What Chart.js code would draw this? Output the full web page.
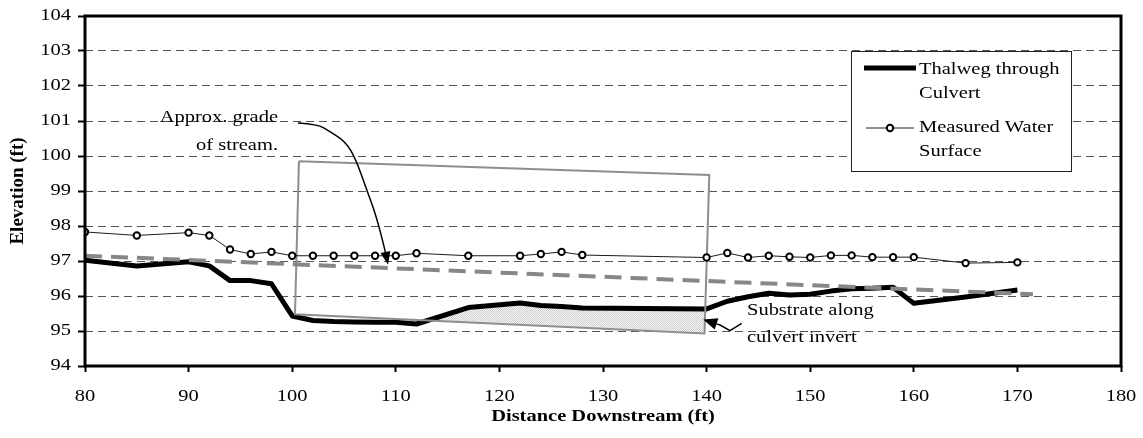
<!DOCTYPE html>
<html>
<head>
<meta charset="utf-8">
<title>Thalweg and water surface profile</title>
<script src="https://cdn.jsdelivr.net/npm/chart.js@4.4.1/dist/chart.umd.min.js"></script>
<style>
  html, body { margin: 0; padding: 0; background: #fff; }
  #wrap { width: 1143px; height: 438px; position: relative; }
</style>
</head>
<body>
<div id="wrap"><canvas id="profileChart"></canvas></div>
<script>
// ── Data ───────────────────────────────
const distance     = [80, 85, 90, 92, 94, 96, 98, 100, 102, 104, 106, 108, 110, 112, 117, 122, 124, 126, 128,
                      140, 142, 144, 146, 148, 150, 152, 154, 156, 158, 160, 165, 170];
const waterSurface = [97.83, 97.73, 97.81, 97.73, 97.33, 97.20, 97.26, 97.15, 97.15, 97.15, 97.15, 97.15, 97.15, 97.22,
                      97.15, 97.15, 97.20, 97.26, 97.17, 97.10, 97.23, 97.10, 97.15, 97.12, 97.10, 97.16, 97.16,
                      97.11, 97.11, 97.11, 96.94, 96.96];
const thalweg      = [97.02, 96.86, 96.98, 96.86, 96.44, 96.44, 96.35, 95.43, 95.30, 95.27, 95.26, 95.25, 95.25, 95.20,
                      95.67, 95.80, 95.73, 95.70, 95.66, 95.63, 95.85, 95.98, 96.08, 96.03, 96.05, 96.14, 96.21,
                      96.22, 96.25, 95.79, 95.97, 96.17];
const gradeX   = [80, 171.5];
const gradeY   = [97.15, 96.05];
const culvertX = [100.65, 140.26, 139.80, 100.27, 100.65];
const culvertY = [99.85, 99.46, 94.93, 95.48, 99.85];

const xTicks = [80, 90, 100, 110, 120, 130, 140, 150, 160, 170, 180];
const yTicks = [94, 95, 96, 97, 98, 99, 100, 101, 102, 103, 104];

// annotations (data units)
const gradeNote    = ['Approx. grade', 'of stream.'];
const gradeNoteX   = 98.63;
const gradeNoteY   = [101.09, 100.29];
const gradeArrowX  = [100.56, 102.49, 103.59, 105.19, 106.16, 107.12, 108.09, 108.96, 109.25];
const gradeArrowY  = [100.94, 100.90, 100.71, 100.40, 99.89, 99.09, 98.31, 97.31, 96.89];
const invertNote   = ['Substrate along', 'culvert invert'];
const invertNoteX  = 143.9;
const invertNoteY  = [95.57, 94.80];
const invertArrowX = [143.39, 142.26, 141.29, 139.68];
const invertArrowY = [95.22, 95.01, 95.17, 95.33];

// ── Helpers ────────────────────────────
const SERIF = '"Liberation Serif", "Times New Roman", serif';
const STRETCH = 1.28; // the reference text is drawn wide

const pts = (xs, ys) => xs.map((x, i) => ({ x, y: ys[i] }));

function wideText(ctx, txt, x, y, align, font) {
  ctx.save();
  ctx.font = font;
  ctx.fillStyle = '#000';
  ctx.textAlign = align;
  ctx.textBaseline = 'middle';
  ctx.translate(x, y);
  ctx.scale(STRETCH, 1);
  ctx.fillText(txt, 0, 0);
  ctx.restore();
}

function arrow(ctx, p, smooth, headLen, headW) {
  const n = p.length;
  const a = p[n - 2], b = p[n - 1];
  const ang = Math.atan2(b.y - a.y, b.x - a.x);
  const base = { x: b.x - headLen * Math.cos(ang), y: b.y - headLen * Math.sin(ang) };
  ctx.save();
  ctx.strokeStyle = '#000';
  ctx.fillStyle = '#000';
  ctx.lineWidth = 1.5;
  ctx.beginPath();
  ctx.moveTo(p[0].x, p[0].y);
  if (smooth) {
    for (let i = 1; i < n - 1; i++) {
      ctx.quadraticCurveTo(p[i].x, p[i].y, (p[i].x + p[i + 1].x) / 2, (p[i].y + p[i + 1].y) / 2);
    }
  } else {
    for (let i = 1; i < n - 1; i++) ctx.lineTo(p[i].x, p[i].y);
  }
  ctx.lineTo(base.x, base.y);
  ctx.stroke();
  ctx.beginPath();
  ctx.moveTo(b.x, b.y);
  ctx.lineTo(base.x + headW * Math.sin(ang), base.y - headW * Math.cos(ang));
  ctx.lineTo(base.x - headW * Math.sin(ang), base.y + headW * Math.cos(ang));
  ctx.closePath();
  ctx.fill();
  ctx.restore();
}

// shaded wedge: thalweg sitting above the culvert invert line
const invA = { x: culvertX[3], y: culvertY[3] };
const invB = { x: culvertX[2], y: culvertY[2] };
const invertAt = x => invA.y + (invB.y - invA.y) * (x - invA.x) / (invB.x - invA.x);
const wedge = [];
for (let i = 1; i < distance.length; i++) {
  const x0 = distance[i - 1], x1 = distance[i];
  if (x1 > invB.x + 0.5) break;
  const d0 = thalweg[i - 1] - invertAt(x0), d1 = thalweg[i] - invertAt(x1);
  if (d0 <= 0 && d1 > 0) {
    const xc = x0 + (x1 - x0) * d0 / (d0 - d1);
    wedge.push({ x: xc, y: invertAt(xc) });
  }
  if (d1 > 0 && wedge.length) wedge.push({ x: x1, y: thalweg[i] });
}
wedge.push({ x: invB.x, y: invB.y });
wedge.push(wedge[0]);

const canvas = document.getElementById('profileChart');
const ctx = canvas.getContext('2d');

const dots = document.createElement('canvas');
dots.width = dots.height = 2;
const dg = dots.getContext('2d');
dg.fillStyle = '#f7f7f7'; dg.fillRect(0, 0, 2, 2);
dg.fillStyle = '#cdcdcd'; dg.fillRect(0, 0, 1, 1); dg.fillRect(1, 1, 1, 1);
const stipple = ctx.createPattern(dots, 'repeat');

// ── Plugins ────────────────────────────
const decorations = {
  id: 'decorations',
  afterDraw(chart) {
    const { ctx, chartArea: area, scales: { x, y } } = chart;
    const px = (xs, ys) => xs.map((v, i) => ({ x: x.getPixelForValue(v), y: y.getPixelForValue(ys[i]) }));

    // notes and arrows
    gradeNote.forEach((t, i) => wideText(ctx, t, x.getPixelForValue(gradeNoteX), y.getPixelForValue(gradeNoteY[i]), 'right', '16px ' + SERIF));
    invertNote.forEach((t, i) => wideText(ctx, t, x.getPixelForValue(invertNoteX), y.getPixelForValue(invertNoteY[i]), 'left', '16px ' + SERIF));
    arrow(ctx, px(gradeArrowX, gradeArrowY), true, 13, 5);
    arrow(ctx, px(invertArrowX, invertArrowY), false, 14, 6);

    // legend
    const lx = 851.5, ly = 51.5;
    ctx.save();
    ctx.fillStyle = '#fff';
    ctx.fillRect(lx, ly, 220, 120);
    ctx.strokeStyle = '#222';
    ctx.lineWidth = 1;
    ctx.strokeRect(lx, ly, 220, 120);
    ctx.strokeStyle = '#000';
    ctx.lineWidth = 5;
    ctx.beginPath(); ctx.moveTo(864, 68); ctx.lineTo(916, 68); ctx.stroke();
    ctx.lineWidth = 1;
    ctx.strokeStyle = '#1a1a1a';
    ctx.beginPath(); ctx.moveTo(866, 128); ctx.lineTo(914, 128); ctx.stroke();
    ctx.fillStyle = '#fff';
    ctx.strokeStyle = '#000';
    ctx.lineWidth = 2;
    ctx.beginPath(); ctx.arc(890, 128, 3.2, 0, Math.PI * 2); ctx.fill(); ctx.stroke();
    ctx.restore();
    wideText(ctx, 'Thalweg through', 919, 70, 'left', '16px ' + SERIF);
    wideText(ctx, 'Culvert', 919, 94, 'left', '16px ' + SERIF);
    wideText(ctx, 'Measured Water', 919, 128, 'left', '16px ' + SERIF);
    wideText(ctx, 'Surface', 919, 152, 'left', '16px ' + SERIF);

    // tick labels and axis titles
    xTicks.forEach(v => wideText(ctx, String(v), x.getPixelForValue(v), 397, 'center', '16px ' + SERIF));
    yTicks.forEach(v => wideText(ctx, String(v), 71, y.getPixelForValue(v), 'right', '16px ' + SERIF));
    wideText(ctx, 'Distance Downstream (ft)', (area.left + area.right) / 2, 417, 'center', 'bold 16px ' + SERIF);
    ctx.save();
    ctx.translate(18, (area.top + area.bottom) / 2);
    ctx.rotate(-Math.PI / 2);
    ctx.font = 'bold 19px ' + SERIF;
    ctx.fillStyle = '#000';
    ctx.textAlign = 'center';
    ctx.textBaseline = 'middle';
    ctx.fillText('Elevation (ft)', 0, 0);
    ctx.restore();

    // plot frame
    ctx.save();
    ctx.strokeStyle = '#000';
    ctx.lineWidth = 3;
    ctx.strokeRect(area.left, area.top, area.right - area.left, area.bottom - area.top);
    ctx.restore();
  }
};

// ── Chart ──────────────────────────────
new Chart(ctx, {
  type: 'scatter',
  data: {
    datasets: [
      {
        label: 'Measured Water Surface', data: pts(distance, waterSurface), showLine: true,
        borderColor: '#1a1a1a', borderWidth: 1,
        pointRadius: 3.2, pointBorderWidth: 2, pointBorderColor: '#000', pointBackgroundColor: '#fff', order: 0
      },
      {
        label: 'Approx. grade', data: pts(gradeX, gradeY), showLine: true,
        borderColor: '#878787', borderWidth: 4, borderDash: [17, 9], pointRadius: 0, order: 1
      },
      {
        label: 'Culvert', data: pts(culvertX, culvertY), showLine: true,
        borderColor: '#8e8e8e', borderWidth: 2, pointRadius: 0, order: 2
      },
      {
        label: 'Thalweg through Culvert', data: pts(distance, thalweg), showLine: true,
        borderColor: '#000', borderWidth: 5, borderJoinStyle: 'round', pointRadius: 0, order: 3
      },
      {
        label: 'Substrate', data: wedge, showLine: true, fill: 'shape',
        backgroundColor: stipple, borderWidth: 0, pointRadius: 0, order: 4
      }
    ]
  },
  options: {
    responsive: true,
    maintainAspectRatio: false,
    animation: false,
    layout: { padding: { top: 16, right: 22, left: 0, bottom: 0 } },
    plugins: { legend: { display: false }, tooltip: { enabled: false } },
    scales: {
      x: {
        type: 'linear', min: 80, max: 180,
        afterFit: s => { s.height = 72; },
        afterBuildTicks: s => { s.ticks = xTicks.map(v => ({ value: v })); },
        ticks: { display: false },
        grid: { drawOnChartArea: false, drawTicks: true, tickLength: 6, tickColor: '#000', tickWidth: 2 },
        border: { display: false }
      },
      y: {
        type: 'linear', min: 94, max: 104,
        afterFit: s => { s.width = 85; },
        afterBuildTicks: s => { s.ticks = yTicks.map(v => ({ value: v })); },
        ticks: { display: false },
        grid: { color: '#555', lineWidth: 1, tickLength: 7, tickColor: '#000', tickWidth: 2 },
        border: { display: false, dash: [8, 5] }
      }
    }
  },
  plugins: [decorations]
});
</script>
</body>
</html>
